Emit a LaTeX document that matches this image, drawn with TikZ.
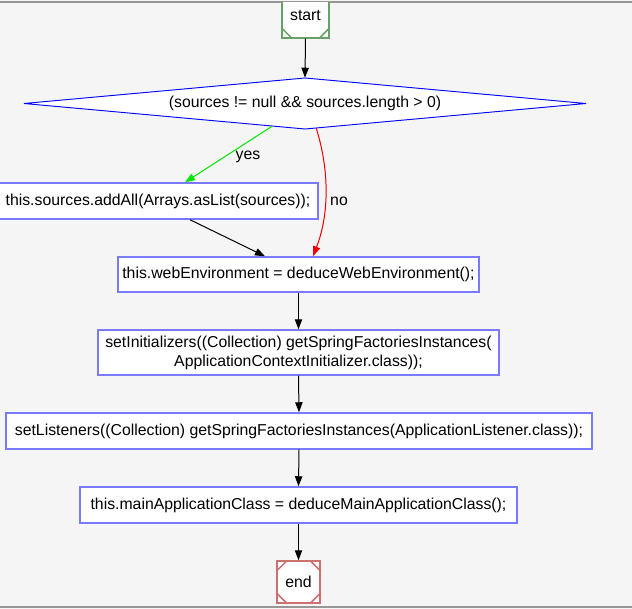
\documentclass[tikz,border=0pt]{standalone}
\usepackage{fontspec}
\setmainfont{Liberation Sans}
\usetikzlibrary{arrows.meta,calc}
\definecolor{bg}{RGB}{245,245,245}
\definecolor{frameline}{RGB}{150,150,150}
\definecolor{boxblue}{RGB}{122,122,255}
\definecolor{startgreen}{RGB}{104,160,104}
\definecolor{endred}{RGB}{204,112,112}
\definecolor{yesgreen}{RGB}{0,230,0}
\definecolor{nored}{RGB}{240,0,0}
\tikzset{
  txt/.style={font=\fontsize{11.85pt}{14.3pt}\selectfont},
  stmt/.style={txt, draw=boxblue, line width=1.1pt, fill=white, inner sep=0pt, align=center},
  msq/.style={txt, line width=1.1pt, fill=white, inner sep=0pt},
  condlbl/.style={txt, inner sep=0pt},
  condshape/.style={draw=blue, line width=0.7pt, fill=white},
  flow/.style={line width=0.75pt, -{Triangle[length=7.5pt,width=5.5pt]}},
  lbl/.style={txt, inner sep=1pt}
}
\begin{document}
\begin{tikzpicture}[x=0.75pt,y=-0.75pt]
\useasboundingbox (0,0) rectangle (632,609);
\fill[bg] (0,0) rectangle (632,609);
\draw[frameline, line width=1.2pt] (0,2) -- (632,2);
\draw[frameline, line width=1.2pt] (0,607) -- (632,607);
\begin{scope}
\clip (0,3) rectangle (632,606);
% decision shape
\filldraw[condshape] (24,103.5) -- (305,78) -- (586,103.5) -- (305,129) -- cycle;
% nodes
\node[msq, draw=startgreen, minimum width=47*0.75pt, minimum height=46*0.75pt] (start) at (305.5,15) {start};
\node[condlbl, minimum width=562*0.75pt, minimum height=51*0.75pt] (cond) at (305,103.5) {(sources != null \&\& sources.length > 0)};
\node[stmt, minimum width=320*0.75pt, minimum height=36*0.75pt] (add) at (158,201) {this.sources.addAll(Arrays.asList(sources));};
\node[stmt, minimum width=361*0.75pt, minimum height=35*0.75pt] (web) at (298.5,274.5) {this.webEnvironment = deduceWebEnvironment();};
\node[stmt, minimum width=401*0.75pt, minimum height=45*0.75pt] (init) at (298.5,352.5) {setInitializers((Collection) getSpringFactoriesInstances(\\ApplicationContextInitializer.class));};
\node[stmt, minimum width=586*0.75pt, minimum height=36*0.75pt] (listen) at (299,431) {setListeners((Collection) getSpringFactoriesInstances(ApplicationListener.class));};
\node[stmt, minimum width=437*0.75pt, minimum height=36*0.75pt] (mainc) at (298.5,505) {this.mainApplicationClass = deduceMainApplicationClass();};
\node[msq, draw=endred, minimum width=43*0.75pt, minimum height=42*0.75pt] (end) at (298.5,582) {end};
% Msquare corner marks
\foreach \n/\c in {start/startgreen, end/endred}{
  \draw[\c, line width=1.1pt] ($(\n.north west)+(0,11)$) -- ($(\n.north west)+(11,0)$);
  \draw[\c, line width=1.1pt] ($(\n.north east)+(0,11)$) -- ($(\n.north east)+(-11,0)$);
  \draw[\c, line width=1.1pt] ($(\n.south west)+(0,-11)$) -- ($(\n.south west)+(11,0)$);
  \draw[\c, line width=1.1pt] ($(\n.south east)+(0,-11)$) -- ($(\n.south east)+(-11,0)$);
}
% connector anchors
\coordinate (yesfrom) at ($(cond.south)!0.117!(cond.west)$);
\coordinate (nofrom) at ($(cond.south)!0.04!(cond.east)$);
% connectors
\draw[flow] (start.south) -- (cond.north);
\draw[flow, yesgreen] (yesfrom) -- ($(add.north)+(27,0)$);
\node[lbl] (yeslbl) at (248,157) {yes};
\draw[flow, nored] (nofrom) .. controls ($(nofrom)+(14,45)$) and ($(web.north)+(30,-40)$) .. ($(web.north)+(14.5,0)$);
\node[lbl] (nolbl) at (339,201) {no};
\draw[flow] ($(add.south)+(32,0)$) -- ($(web.north)+(-33.5,0)$);
\draw[flow] (web.south) -- (init.north);
\draw[flow] (init.south) -- (listen.north);
\draw[flow] (listen.south) -- (mainc.north);
\draw[flow] (mainc.south) -- (end.north);
\end{scope}
\end{tikzpicture}
\end{document}
